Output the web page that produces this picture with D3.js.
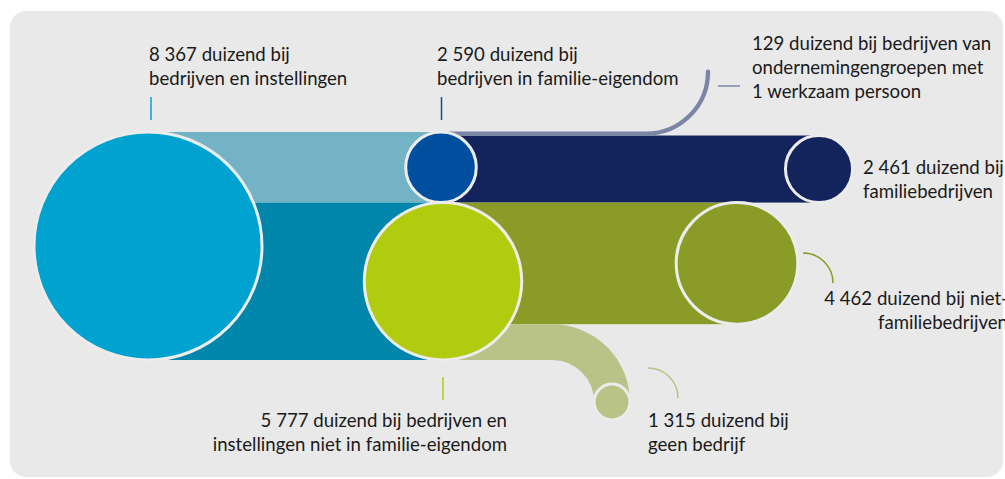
<!DOCTYPE html>
<html><head><meta charset="utf-8">
<script src="https://cdn.jsdelivr.net/npm/d3@7"></script>
<style>
body{margin:0;background:#fff;}
svg{display:block;}
text{font-family:Lato, "Open Sans", sans-serif;font-size:18.6px;fill:#1a1a1a;}
</style>
</head><body>
<svg id="chart" width="1005" height="479"></svg>
<script>
// ---- data ----
const nodeNames = ["totaal", "familieEigendom", "nietFamilieEigendom", "groep1Persoon", "familiebedrijven", "nietFamiliebedrijven", "geenBedrijf"];
const values = [8367, 2590, 5777, 129, 2461, 4462, 1315];
const labelLines = [
  ["8 367 duizend bij", "bedrijven en instellingen"],
  ["2 590 duizend bij", "bedrijven in familie-eigendom"],
  ["5 777 duizend bij bedrijven en", "instellingen niet in familie-eigendom"],
  ["129 duizend bij bedrijven van", "ondernemingengroepen met", "1 werkzaam persoon"],
  ["2 461 duizend bij", "familiebedrijven"],
  ["4 462 duizend bij niet-", "familiebedrijven"],
  ["1 315 duizend bij", "geen bedrijf"]
];
const links = [[0, 1], [0, 2], [1, 3], [1, 4], [2, 5], [2, 6]];

// ---- layout / style ----
const colors = ["#00a3cf", "#004f9f", "#b1cb0e", "#7b86a6", "#13235b", "#8a9c27", "#b9c387"];
const bandColors = {"0-1": "#74b3c5", "0-2": "#0086aa", "1-3": "#7b86a6", "1-4": "#13235b", "2-5": "#8a9c27", "2-6": "#b9c387"};
const nodeX = [148, 441, 443, 708, 819, 737, 612];
const top0 = 132;

const svg = d3.select("#chart");
const h = d3.scaleLinear().domain([0, values[0]]).range([0, 228]);

// background panel
svg.append("rect").attr("x", 10).attr("y", 11).attr("width", 993).attr("height", 466)
  .attr("rx", 16).attr("fill", "#e9e9e9");

// compute vertical extents of nodes
const nodeTop = new Array(values.length).fill(0);
nodeTop[0] = top0;
const offset = new Array(values.length).fill(0);
links.forEach(([s, t]) => {
  nodeTop[t] = nodeTop[s] + offset[s];
  offset[s] += h(values[t]);
});
const cy = i => nodeTop[i] + h(values[i]) / 2;

const g = svg.append("g");

// straight bands
links.forEach(([s, t]) => {
  if (t === 3 || t === 6) return;
  g.append("rect")
    .attr("x", nodeX[s]).attr("y", nodeTop[t])
    .attr("width", nodeX[t] - nodeX[s]).attr("height", h(values[t]))
    .attr("fill", bandColors[s + "-" + t]);
});

// small stream 129 curving up
{
  const y = cy(3);
  const R = 62, xs = nodeX[3] - R;
  const p = d3.path();
  p.moveTo(nodeX[1], y);
  p.lineTo(xs, y);
  p.arc(xs, y - R, R, Math.PI / 2, 0, true);
  g.append("path").attr("d", p.toString()).attr("fill", "none")
    .attr("stroke", bandColors["1-3"]).attr("stroke-width", h(values[3]) + 0.8)
    .attr("stroke-linecap", "round");
}

// tube 1315 curving down
const endY6 = 402;
{
  const y = cy(6);
  const R = endY6 - y, xs = nodeX[6] - R;
  const p = d3.path();
  p.moveTo(nodeX[2], y);
  p.lineTo(xs, y);
  p.arc(xs, y + R, R, -Math.PI / 2, 0, false);
  g.append("path").attr("d", p.toString()).attr("fill", "none")
    .attr("stroke", bandColors["2-6"]).attr("stroke-width", h(values[6]));
}

// circles
const circleNodes = [0, 1, 2, 4, 5, 6];
circleNodes.forEach(i => {
  g.append("circle")
    .attr("cx", nodeX[i])
    .attr("cy", i === 6 ? endY6 : cy(i))
    .attr("r", h(values[i]) / 2)
    .attr("fill", colors[i])
    .attr("stroke", "#ececec").attr("stroke-width", 3);
});

// labels
const labelPos = [
  {x: 149, y: 61, anchor: "start"},
  {x: 437, y: 61, anchor: "start"},
  {x: 507, y: 427, anchor: "end"},
  {x: 752, y: 50, anchor: "start"},
  {x: 863, y: 174, anchor: "start"},
  {x: 1008, y: 305, anchor: "end"},
  {x: 648, y: 427, anchor: "start"}
];
labelLines.forEach((lines, i) => {
  const t = svg.append("text").attr("text-anchor", labelPos[i].anchor);
  lines.forEach((l, k) => {
    t.append("tspan").attr("x", labelPos[i].x).attr("y", labelPos[i].y + k * 24).text(l);
  });
});

// leader lines
const lead = svg.append("g").attr("fill", "none").attr("stroke-width", 1.5);
lead.append("line").attr("x1", 151).attr("x2", 151).attr("y1", 97).attr("y2", 120).attr("stroke", colors[0]);
lead.append("line").attr("x1", 441.5).attr("x2", 441.5).attr("y1", 97).attr("y2", 120).attr("stroke", colors[1]);
lead.append("line").attr("x1", 443).attr("x2", 443).attr("y1", 377).attr("y2", 400).attr("stroke", colors[2]);
lead.append("line").attr("x1", 718).attr("x2", 740).attr("y1", 86).attr("y2", 86).attr("stroke", colors[3]);
{
  const p = d3.path(); p.moveTo(803, 253); p.arc(803, 283, 30, -Math.PI / 2, 0, false);
  lead.append("path").attr("d", p.toString()).attr("stroke", colors[5]);
  const q = d3.path(); q.moveTo(648, 368); q.arc(648, 398, 30, -Math.PI / 2, 0, false);
  lead.append("path").attr("d", q.toString()).attr("stroke", colors[6]);
}
</script>
</body></html>
